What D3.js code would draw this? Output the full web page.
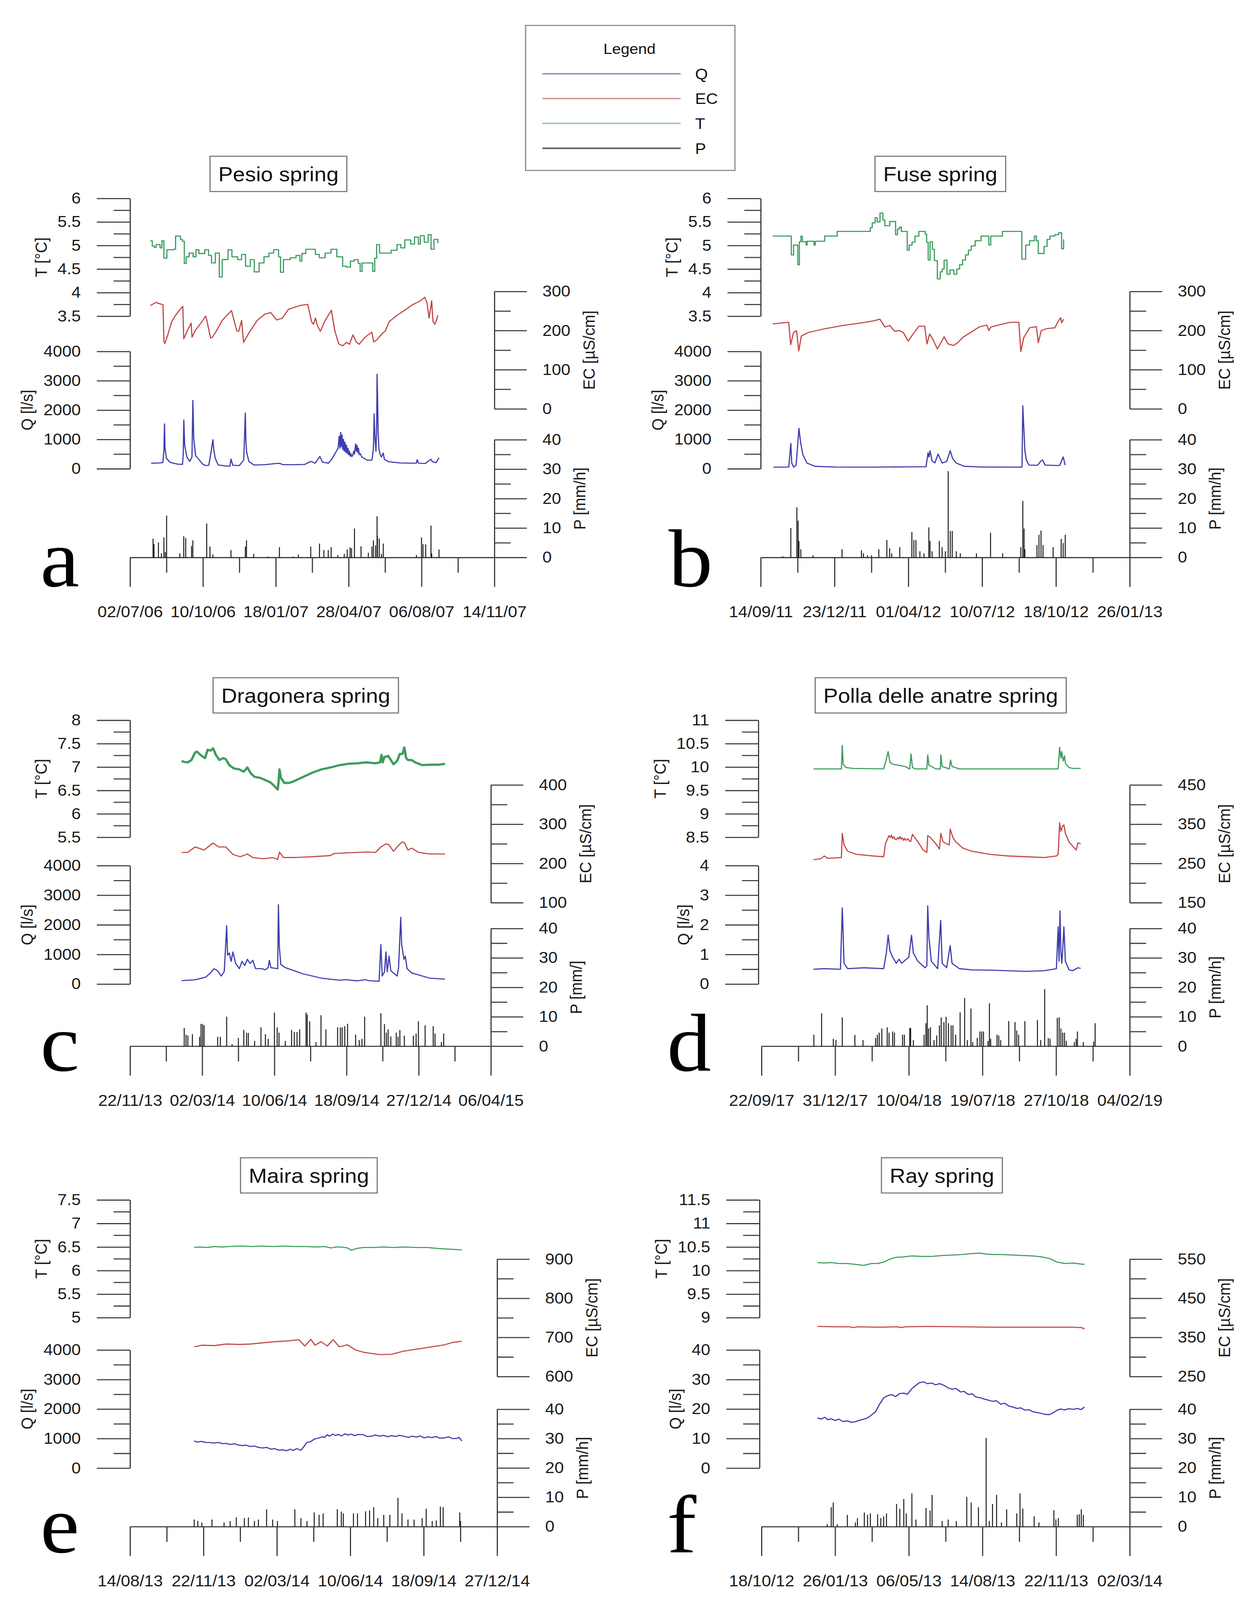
<!DOCTYPE html>
<html><head><meta charset="utf-8">
<script src="https://cdn.jsdelivr.net/npm/d3@7"></script>
<style>html,body{margin:0;padding:0;height:100%;overflow:hidden;background:#fff}svg{display:block;width:100vw;height:100vh}</style>
</head><body>
<svg id="chart" viewBox="0 0 3224 4403" preserveAspectRatio="none"></svg>
<script>
// ---------------- DATA ----------------
// x values are days after the first date tick of each panel
const legendItems = ["Q","EC","T","P"];

// a - Pesio spring
const pesioDates = ["02/07/06","10/10/06","18/01/07","28/04/07","06/08/07","14/11/07"];
const pesioTTicks = [3.5,4,4.5,5,5.5,6];
const pesioQTicks = [0,1000,2000,3000,4000];
const pesioECTicks = [0,100,200,300];
const pesioPTicks = [0,10,20,30,40];
const pesioT = [[27.8,5.10],[30.5,4.99],[33.2,4.96],[35.8,5.02],[41.2,4.95],[43.8,5.10],[46.5,4.73],[50.5,4.91],[59.8,4.92],[62.5,5.20],[69.2,5.13],[71.8,5.09],[74.5,4.62],[77.1,4.76],[81.1,4.84],[86.5,4.76],[90.5,4.91],[94.5,4.83],[102.5,4.91],[107.8,4.79],[111.8,4.63],[117.1,4.84],[122.5,4.33],[126.5,4.70],[134.5,4.91],[139.8,4.76],[147.8,4.70],[153.1,4.81],[158.5,4.56],[165.1,4.70],[170.5,4.44],[177.1,4.63],[183.8,4.76],[190.5,4.84],[197.1,4.91],[203.8,4.76],[206.5,4.43],[210.5,4.70],[219.8,4.74],[227.8,4.79],[233.1,4.67],[235.8,4.83],[241.1,4.92],[249.1,4.92],[254.4,4.81],[259.8,4.74],[267.8,4.84],[275.8,4.92],[283.8,4.76],[291.8,4.56],[297.1,4.54],[302.4,4.67],[307.8,4.70],[313.1,4.62],[315.8,4.45],[318.4,4.63],[326.4,4.63],[333.1,4.45],[335.8,4.73],[338.4,5.02],[342.4,4.84],[350.4,4.84],[358.4,4.90],[366.4,5.02],[371.7,4.95],[377.1,5.12],[385.1,5.03],[390.4,5.18],[395.7,5.03],[398.4,5.21],[403.7,5.07],[409.1,5.23],[413.1,4.92],[417.1,5.13],[422.4,5.05]];
const pesioEC = [[27.8,264],[35.8,272],[39.8,269],[45.2,266],[46.5,173],[47.8,167],[51.8,189],[57.2,223],[62.5,239],[67.8,252],[72.4,262],[73.7,179],[78.5,199],[83.8,219],[85.1,183],[89.1,199],[97.1,219],[103.8,237],[105.1,229],[110.5,181],[113.1,183],[118.5,199],[126.5,226],[134.5,242],[139.3,251],[146.5,199],[149.1,198],[153.1,226],[155.8,170],[163.8,196],[174.5,226],[185.1,242],[193.1,246],[201.1,227],[209.1,232],[217.1,254],[225.1,259],[233.1,264],[243.8,267],[249.1,223],[251.8,216],[254.4,232],[257.1,213],[261.1,198],[267.8,226],[276.3,252],[281.1,199],[286.4,166],[291.8,161],[297.1,170],[301.1,165],[305.9,189],[310.4,171],[314.4,165],[322.4,183],[331.8,196],[334.4,171],[338.4,176],[346.4,193],[350.4,199],[355.7,223],[366.4,239],[377.1,252],[387.7,266],[398.4,276],[404.5,285],[407.7,269],[410.4,232],[413.9,276],[415.7,223],[418.4,216],[421,229],[422.4,239]];
const pesioQ = [[29,190],[40,200],[45,210],[46.5,600],[47.3,1530],[48,700],[50,350],[55,220],[65,160],[72,150],[73,500],[73.8,1660],[75,800],[78,400],[82,250],[85,400],[86.2,2330],[87.5,1000],[90,450],[95,300],[100,150],[104,110],[108,120],[111,540],[113.7,990],[115,640],[117,350],[121,130],[130,100],[137,85],[138.5,330],[141,120],[150,110],[156,300],[158.2,1900],[159,900],[160,580],[163,250],[170,130],[185,140],[200,180],[205,186],[210,140],[225,140],[240,150],[248,250],[254,190],[260.5,421],[264,230],[272,190],[277,330],[281.7,537],[285.6,702],[287,1115],[288,700],[289.1,1240],[290,750],[291,1150],[292,650],[293,1000],[294,600],[295,900],[296,560],[297,805],[298,520],[299,700],[300,480],[301,600],[302,430],[303,520],[304.3,413],[305.5,450],[307,600],[308,500],[309.6,847],[310.5,600],[311.5,800],[312.5,550],[313.5,700],[314.5,480],[316,520],[318,400],[320.3,372],[325,300],[328.3,290],[332,300],[334,700],[335,1870],[336,1100],[337.5,600],[338.5,1500],[339,3220],[339.8,2300],[340.5,1200],[341.5,700],[343,500],[345,400],[347.5,537],[349,320],[355,240],[370,200],[393,190],[394,310],[396,190],[405,180],[413,322],[415,240],[420,210],[424,372]];
const pesioP = [[31.6,6.4],[32.9,4.5],[39,5.1],[43,1.4],[46.5,6.8],[48.4,1.9],[50.2,14.2],[68.4,1.4],[73.7,7.2],[76.4,6.6],[84.4,3.9],[86.2,5.8],[105.2,11.5],[109.7,3.7],[113.7,1.0],[138.5,2.5],[158.2,3.7],[159.8,5.8],[169.7,1.2],[189,0.3],[205,3.5],[224,0.3],[231,1.0],[248,3.7],[260,4.7],[266,2.5],[272,2.5],[276,3.5],[285,0.8],[294,1.2],[298,2.7],[302,3.4],[304,3.1],[308,9.8],[317,3.8],[327,1.6],[332,3.7],[334,5.8],[337,4.1],[339,14],[339.5,7.4],[342,6.4],[345,1.2],[347.5,4.7],[393,0.8],[400,6.8],[402,4.5],[405.7,4.4],[413,10.8],[414,1.4],[424,2.7]];

// b - Fuse spring
const fuseDates = ["14/09/11","23/12/11","01/04/12","10/07/12","18/10/12","26/01/13"];
const fuseTTicks = [3.5,4,4.5,5,5.5,6];
const fuseQTicks = [0,1000,2000,3000,4000];
const fuseECTicks = [0,100,200,300];
const fusePTicks = [0,10,20,30,40];
const fuseT = [[16.3,5.20],[39.2,5.20],[41.4,4.80],[44.5,5.01],[47.9,5.01],[50.3,4.59],[52.4,5.08],[54.5,5.20],[56.5,5.08],[61.6,5.01],[62.9,5.09],[72.2,5.01],[74,5.09],[85.3,5.09],[86.6,5.20],[102.4,5.20],[103.7,5.30],[145.8,5.30],[148.5,5.38],[151.1,5.48],[155,5.59],[157.7,5.50],[161.6,5.69],[165.6,5.54],[168.2,5.42],[174.8,5.51],[182.7,5.23],[185.3,5.35],[188,5.39],[190.6,5.30],[198.5,4.90],[201.1,5.01],[205,5.07],[209,5.20],[214.3,5.30],[222.7,5.24],[224.8,5.07],[226.9,4.69],[229.5,5.08],[232.7,4.92],[235.3,4.68],[239.3,4.29],[243.2,4.44],[245.9,4.50],[248.5,4.69],[252.4,4.39],[256.4,4.48],[261.7,4.39],[265.6,4.50],[269.5,4.59],[273.5,4.69],[277.5,4.80],[281.4,4.90],[285.3,4.99],[290.6,5.10],[298.5,5.20],[309,5.01],[311.7,5.20],[327.5,5.30],[351.1,5.30],[353.8,4.71],[359,5.01],[364.3,5.10],[370.9,5.20],[373.5,5.10],[376.1,4.83],[384,4.98],[388,5.13],[391.9,5.20],[398.5,5.23],[403.8,5.27],[407.7,4.93],[410.4,5.13]];
const fuseEC = [[16.3,217],[37.9,221],[40.6,164],[44.5,195],[48.5,200],[51.6,148],[55,186],[64.3,195],[85.3,204],[111.6,213],[138,220],[153.7,225],[161.6,229],[168.2,209],[174.8,213],[181.4,198],[188,200],[193.2,195],[199.8,173],[206.4,191],[214.3,211],[222.2,211],[225.3,166],[228.8,191],[232.7,180],[239.3,153],[243.2,166],[248.5,184],[253.8,166],[261.1,162],[266.9,169],[274.8,184],[285.3,196],[295.9,209],[306.4,214],[309,200],[311.7,209],[322.2,214],[338,221],[349.8,221],[352.4,146],[356.4,182],[364.3,207],[373.5,210],[376.1,169],[380.1,200],[388,205],[398.5,207],[403.2,224],[406.4,233],[407.7,220],[410.4,229]];
const fuseQ = [[17.3,56],[38,60],[40.8,864],[42,200],[44.7,56],[48,120],[51.8,1380],[54,900],[57.2,474],[62.7,195],[73.6,84],[100,60],[150,55],[200,65],[224,70],[226.7,543],[228,400],[229.4,613],[232.2,265],[236,200],[240.3,500],[245.8,195],[252,250],[256.7,613],[260,350],[264.9,195],[275.9,84],[300,60],[354,56],[355.1,2146],[357.9,613],[360,300],[363.3,125],[375,120],[379.7,265],[382,300],[385.2,125],[405,110],[409.8,404],[412.5,125]];
const fuseP = [[29.9,0.4],[40.8,10],[49,17],[50.7,12.5],[51.8,5.6],[54.4,2.8],[70.9,0.7],[110.2,2.8],[136.5,2.4],[139.2,1.4],[144.6,0.7],[150.1,0.7],[160,2.8],[170.9,5.9],[174.7,3.1],[177.5,1.4],[188.4,3.5],[204.8,8.6],[207.5,5.9],[210.3,5.9],[215.7,2.1],[221.2,1.4],[227.8,10.2],[229.4,5.6],[232.2,2.1],[242,5.6],[245.8,3.5],[250.2,2.1],[254,29.3],[256.8,9],[259.5,9],[265,2.1],[270.4,1.4],[292.3,1.4],[311.4,8.4],[327.8,1.4],[352.4,3.5],[355.1,19.2],[356.8,9.8],[357.9,2.8],[374.3,4.2],[377,7.7],[379.8,9.1],[382.5,4.2],[396.2,3.5],[407.1,6.3],[409.8,4.9],[412.6,7.7]];

// c - Dragonera spring
const dragDates = ["22/11/13","02/03/14","10/06/14","18/09/14","27/12/14","06/04/15"];
const dragTTicks = [5.5,6,6.5,7,7.5,8];
const dragQTicks = [0,1000,2000,3000,4000];
const dragECTicks = [100,200,300,400];
const dragPTicks = [0,10,20,30,40];
const dragT = [[71.4,7.13],[75,7.11],[80.1,7.10],[85.1,7.15],[90.1,7.31],[92.6,7.33],[97.6,7.26],[103.9,7.19],[107.6,7.37],[111.4,7.35],[115.1,7.40],[118.9,7.26],[123.9,7.15],[128.9,7.19],[132.6,7.17],[137.6,7.04],[143.9,6.97],[151.4,6.95],[157.6,6.90],[162.6,6.99],[167.6,6.86],[172.6,6.79],[180.1,6.77],[187.6,6.72],[193.9,6.68],[197.6,6.63],[201.4,6.57],[204.6,6.52],[205.9,6.70],[207.1,6.95],[208.9,6.77],[213.9,6.66],[220.1,6.66],[227.6,6.70],[240.1,6.79],[252.6,6.88],[265.1,6.95],[277.6,6.99],[290.1,7.04],[302.6,7.07],[315.1,7.08],[327.6,7.10],[340.1,7.08],[346.4,7.10],[348.4,7.26],[350.1,7.10],[352.6,7.22],[355.1,7.22],[357.6,7.24],[361.4,7.15],[365.1,7.06],[370.1,7.13],[373.9,7.28],[377.6,7.28],[380.1,7.42],[382.6,7.19],[385.1,7.15],[390.1,7.15],[395.1,7.10],[405.1,7.04],[415.1,7.05],[427.6,7.05],[436.4,7.07]];
const dragEC = [[71.4,228],[80.1,228],[90.1,242],[102.6,234],[115.1,252],[122.6,242],[132.6,242],[142.6,223],[152.6,217],[162.6,224],[170.1,215],[185.1,212],[197.6,215],[204.6,210],[207.1,229],[212.6,215],[227.6,215],[252.6,217],[277.6,220],[282.6,225],[302.6,227],[327.6,229],[340.1,228],[347.6,242],[355.1,250],[358.9,247],[365.1,231],[372.6,247],[377.6,255],[380.6,252],[385.1,234],[390.1,239],[400.1,228],[415.1,224],[436.4,224]];
const dragQ = [[71.4,115],[90.1,143],[105.1,235],[111.4,377],[116.4,519],[121.4,448],[126.4,271],[130.6,427],[133.9,1970],[135.1,978],[137.6,1049],[140.1,766],[142.6,1084],[146.4,695],[151.4,519],[155.1,766],[158.9,625],[162.6,837],[166.4,695],[170.1,801],[173.9,519],[182.6,519],[187.6,483],[191.4,554],[193.1,801],[195.1,554],[204.6,519],[205.6,2678],[206.9,1261],[208.9,660],[215.1,554],[240.1,342],[265.1,200],[290.1,129],[298.9,150],[315.1,108],[326.4,150],[330.1,115],[345.1,94],[347.6,1332],[349.4,271],[352.6,412],[354.6,1084],[356.4,412],[358.9,943],[361.4,448],[370.1,271],[372.1,554],[375.1,2254],[376.4,1332],[379.6,837],[381.4,943],[383.9,519],[390.1,377],[415.1,200],[436.4,165]];
const dragP = [[75.1,6.2],[77.6,3.9],[80.1,3.6],[86.4,4.1],[96.4,3.2],[98.4,7.6],[100.6,7.5],[102.6,7.1],[121.4,3.2],[125.1,3.2],[133.9,10],[141.4,0.7],[150.1,2.8],[157.6,5.5],[161.4,4.5],[163.9,4.5],[172.6,1.8],[181.4,6.4],[187.6,4.1],[191.4,2.5],[200.1,11.4],[203.9,6.4],[206.4,4.6],[215.1,1.8],[223.9,5.5],[227.6,4.8],[231.4,4.8],[235.1,5.7],[243.9,11.4],[245.6,10.7],[248.9,8.5],[257.6,1.4],[264.6,10.5],[271.4,5.7],[287.6,6.4],[291.4,6.4],[293.9,6.4],[297.6,6.8],[301.4,7.6],[312.6,3.9],[317.6,2.1],[321.4,2.5],[325.1,10],[347.6,11.2],[352.6,7.5],[355.1,4.6],[357.6,5.7],[361.4,3.3],[368.9,4.6],[371.4,3.2],[373.9,5.5],[380.1,3.6],[392.6,3.6],[396.4,4.3],[399.6,8.5],[408.9,7.1],[420.1,6.8],[422.6,4.3],[431.4,1.4],[434.6,4.3]];

// d - Polla delle anatre spring
const pollaDates = ["22/09/17","31/12/17","10/04/18","19/07/18","27/10/18","04/02/19"];
const pollaTTicks = [8.5,9,9.5,10,10.5,11];
const pollaQTicks = [0,1,2,3,4];
const pollaECTicks = [150,250,350,450];
const pollaPTicks = [0,10,20,30,40];
const pollaT = [[70.6,9.96],[108.5,9.96],[109.7,10.46],[110.9,10.06],[114.6,9.99],[124.3,9.97],[165.9,9.96],[168.3,10.10],[172,10.33],[174.4,10.10],[178.1,10.06],[185.4,10.04],[195.2,10.01],[201.3,9.96],[203,10.28],[205,9.99],[208.6,9.96],[224.5,9.96],[225.7,10.26],[227.4,10.04],[236.7,9.96],[242.8,9.96],[243.5,10.26],[245.3,10.01],[255,9.96],[256.7,10.15],[258.7,10.01],[268.5,9.96],[402.8,9.96],[404.8,10.42],[406.5,10.19],[407.7,10.33],[409.7,10.13],[411.4,10.24],[412.6,10.08],[417.5,9.99],[422.4,9.97],[433.4,9.97]];
const pollaEC = [[70.6,259.5],[80.4,262],[85.2,268.8],[90.1,263],[108.5,265],[109.7,326.6],[112.1,297],[117,281],[129.2,273],[151.2,269],[165.9,267],[168.3,300],[173.2,321],[175,316],[176.5,322],[178.1,313],[180,318],[181.5,311],[183,310.5],[185,316],[186.5,312],[187.9,318.5],[189.5,312],[191,315],[192.7,309],[194.5,314],[196,309],[197.6,310.5],[199,313],[200.5,307],[202.5,306],[205,324],[212.3,305],[219.6,284],[224.5,278],[225.7,321],[229.4,316],[236.7,300],[241.6,286.5],[243.5,326.6],[246.5,305],[251.4,300],[255,297],[256.2,337.5],[259.9,316],[263.6,305],[273.4,289],[285.6,281],[310,273],[334.4,269],[358.9,267],[383.3,265],[400.4,268.8],[402.8,273],[404.8,353.5],[406.5,332],[408.9,345.5],[410.6,348],[412.6,326.6],[417.5,305],[422.4,294],[427.3,284],[429.7,302.5],[433.4,300]];
const pollaQ = [[70.6,0.50],[85.2,0.52],[107.2,0.50],[109.7,2.57],[110.4,2.04],[112.1,0.70],[117,0.52],[139,0.55],[165.9,0.52],[169.5,1.05],[172,1.65],[174.4,1.12],[178.1,0.91],[183,0.70],[186.6,0.84],[190.3,0.70],[195.2,0.81],[200.1,0.91],[203.7,1.65],[206.2,1.05],[212.3,0.77],[222.1,0.55],[224.5,0.62],[225.7,2.64],[227.4,1.55],[230.6,0.77],[239.2,0.52],[243.3,2.15],[245.3,0.70],[251.4,0.55],[256.2,1.30],[258.7,0.70],[268.5,0.52],[285.6,0.48],[310,0.47],[334.4,0.45],[358.9,0.43],[383.3,0.45],[400.4,0.52],[402.8,1.93],[404,0.77],[405.3,2.47],[406.5,1.12],[407.7,0.70],[408.9,1.12],[410.6,1.93],[412.6,0.77],[417.5,0.48],[422.4,0.45],[429.7,0.55],[433.4,0.53]];
const pollaP = [[71.1,3.9],[81.6,11.2],[97.5,2.5],[101.1,2.1],[109.7,9.8],[126.8,3.8],[137.8,2.1],[154.9,2.8],[157.3,3.9],[159.8,4.6],[163.4,6],[170.7,6.4],[173.2,4.6],[178.1,5],[180.5,4.6],[191.5,3.9],[194,3.9],[201.3,6.2],[202.5,6.2],[206.2,2.1],[220.8,3.9],[223.3,7.8],[225,13.9],[226.9,6],[229.4,6.4],[234.3,2.1],[237.9,3.6],[241.6,7.1],[244,9.8],[247.7,8.2],[250.6,10],[253.8,7.8],[257.5,7.1],[259.9,7.1],[263.6,3.9],[269.7,11.5],[275.8,16.4],[279.5,2.1],[284.4,12.8],[286.8,1.4],[292.9,2.8],[296.6,5],[299,5],[301.4,5],[307.6,1.8],[309.5,14.6],[311.2,2.5],[319.8,3.9],[322.2,3.6],[324.7,2.1],[335.7,8.5],[344.2,8.2],[346.6,5.3],[349.1,3.9],[357.6,8.5],[374.7,8.9],[379.1,2.1],[384.5,19.4],[389.4,2.8],[391.8,2.5],[401.6,9.6],[404.1,9.8],[406.5,6],[408.9,4.6],[411.4,4.6],[413.8,1.8],[424.8,1.4],[427.3,2.5],[429,5],[437,1.4],[451,1.6],[453,7.8]];

// e - Maira spring
const mairaDates = ["14/08/13","22/11/13","02/03/14","10/06/14","18/09/14","27/12/14"];
const mairaTTicks = [5,5.5,6,6.5,7,7.5];
const mairaQTicks = [0,1000,2000,3000,4000];
const mairaECTicks = [600,700,800,900];
const mairaPTicks = [0,10,20,30,40];
const mairaT = [[87.4,6.49],[95,6.50],[105,6.49],[115,6.51],[125,6.50],[135,6.51],[150,6.52],[165,6.51],[180,6.52],[195,6.51],[210,6.52],[225,6.51],[240,6.51],[255,6.50],[265,6.51],[274,6.48],[280,6.50],[288,6.50],[296,6.48],[301.5,6.43],[305,6.45],[309,6.47],[318,6.49],[330,6.49],[345,6.50],[360,6.49],[373,6.50],[390,6.49],[405,6.49],[418,6.47],[428,6.46],[440,6.45],[452,6.44]];
const mairaEC = [[87.4,676],[97.8,680],[115,679],[130.8,683],[150,682],[163.9,683],[180,686],[196.9,689],[215,691],[229.9,694],[238.2,678],[246.4,695],[251.9,680],[260.2,689],[268.5,678],[276.7,694],[285,676],[296,681],[307,668],[318,662],[340.1,656],[356.6,657],[373.1,665],[400.7,673],[428.2,681],[439.2,687],[451.9,690]];
const mairaQ = [[87.4,919],[92,880],[97,905],[103,870],[108.8,867],[114,845],[120,870],[126,830],[130.8,836],[137,800],[142,825],[148,780],[152.8,762],[158,775],[164,730],[170,745],[175,700],[180.4,679],[186,700],[192,640],[197,660],[202.4,606],[208,620],[213.4,585],[218,640],[222,600],[227.2,658],[232.7,606],[236,700],[240.9,867],[246,900],[251,980],[257.5,1023],[262,1060],[265,1040],[268.5,1128],[272,1080],[276,1150],[279.5,1107],[284,1140],[288,1090],[293,1160],[297,1120],[301.5,1149],[306,1100],[311,1140],[318,1128],[323,1070],[329.1,1076],[334,1120],[340,1080],[345.6,1107],[351,1060],[356,1100],[362,1070],[367,1110],[373.1,1076],[379,1040],[384,1080],[390,1050],[395,1090],[400.7,1023],[406,1060],[411,1030],[417,1070],[422,1010],[428.2,1023],[434,1060],[439,1000],[444.7,1003],[448,1040],[451.9,919]];
const mairaP = [[87.4,2.4],[92.3,1.9],[97.8,1.4],[111.6,2.4],[128.1,1.4],[136.4,1.9],[144.7,3.1],[155.7,2.9],[161.2,3.1],[169.4,1.9],[174.9,2.4],[186,5.9],[194.2,2.4],[200.8,1.9],[224.5,5.9],[232.8,2.9],[241,1.9],[250.9,4.8],[257.5,4],[263,4.5],[282.3,5.9],[287.8,5.1],[290.5,4.5],[304.3,4.5],[309.8,4.5],[320.8,5.2],[326.3,5.5],[331.9,6.6],[337.4,2.9],[345.6,4],[353.9,4],[364.9,9.8],[370.4,4.5],[378.6,2.4],[386.9,2.4],[397.9,2.9],[403.4,6.1],[411.6,1.9],[417.1,2.1],[422.7,6.8],[426.5,6.6],[449.1,4.8],[450.2,1.9]];

// f - Ray spring
const rayDates = ["18/10/12","26/01/13","06/05/13","14/08/13","22/11/13","02/03/14"];
const rayTTicks = [9,9.5,10,10.5,11,11.5];
const rayQTicks = [0,10,20,30,40];
const rayECTicks = [250,350,450,550];
const rayPTicks = [0,10,20,30,40];
const rayT = [[76,10.17],[85,10.16],[94.7,10.17],[105,10.15],[116.6,10.15],[128,10.13],[138.5,10.11],[149.4,10.15],[158,10.15],[165.9,10.18],[174,10.24],[182.3,10.28],[193,10.29],[204.2,10.31],[218,10.30],[231.6,10.30],[245,10.32],[259,10.33],[272,10.34],[286.4,10.36],[297.3,10.37],[305,10.35],[313.7,10.34],[327,10.34],[341.1,10.33],[355,10.32],[368.5,10.31],[380,10.29],[390.4,10.26],[396,10.22],[401.4,10.18],[412.3,10.15],[423.3,10.16],[432,10.14],[438.6,10.13]];
const rayEC = [[76,378],[100,377],[120,377],[125,375],[130,377],[160,376],[185,377],[190,375],[195,377],[230,378],[270,377],[320,376],[370,376],[420,376],[435,375],[437,372],[438.6,374]];
const rayQ = [[76,17.0],[81,16.6],[86,17.2],[90,16.4],[94.7,16.7],[100,16.1],[105,16.6],[110,15.8],[116.6,16.0],[122,15.5],[127.5,15.7],[133,16.2],[138,16.5],[144,17.0],[149,17.9],[154.9,19.1],[160,21.5],[165.9,23.8],[171,24.5],[176.8,24.9],[182,24.2],[187,25.2],[193.2,25.4],[198,25.0],[204.2,26.9],[209.7,28.0],[214,28.9],[220.6,29.2],[225,28.6],[231.6,28.8],[236,28.2],[242,28.6],[248,28.0],[253,27.2],[259,26.7],[264,27.0],[270,25.8],[275,26.0],[280.9,24.9],[286,25.2],[291,24.1],[297.3,23.8],[302,23.4],[308,23.0],[313.7,22.6],[319,22.8],[325,21.6],[330,22.0],[336,21.0],[341.1,20.7],[347,20.2],[352,20.4],[358,19.6],[363,19.8],[368.5,19.1],[374,18.8],[379,18.6],[385,18.2],[390.4,18.1],[395,18.6],[401.4,19.6],[406,20.0],[412,19.7],[417,20.1],[423.3,19.9],[429,20.2],[434,19.8],[438.6,20.7]];
const rayP = [[89.2,0.8],[94.7,6.6],[97.4,8.2],[102.9,0.8],[116.6,4],[127.5,1.4],[130.3,2.9],[139.6,4.8],[144,4],[147.8,4.5],[157.7,4.2],[162,2.9],[165.9,3.5],[169.7,4.5],[183.4,7.7],[187.8,6.1],[193.2,9.4],[196.5,4.5],[204.2,11.3],[209.7,2.4],[223.4,6.3],[228.9,5.5],[231.6,10.8],[245.3,1.9],[253.5,2.4],[264.5,1.9],[278.7,10.1],[284.7,8.2],[294.6,6.6],[305,30.2],[309.3,1.9],[313.7,7.7],[319.2,10.8],[325.8,1.4],[332.9,5.9],[346.6,4.5],[351,11.3],[354.8,6.1],[370.2,3.5],[376.7,1.4],[397,5.6],[399.7,2.4],[403,2.9],[428.8,4],[431.5,4.2],[434.2,5.9],[437,4]];

// ---------------- LAYOUT ----------------
const rows = [
  {T:[546,870], Q:[967,1290], EC:[802,1125], P:[1210,1534], box:430, letterY:1613},
  {T:[1982,2304], Q:[2382,2708], EC:[2160,2484], P:[2555,2879], box:1865, letterY:2946},
  {T:[3302,3626], Q:[3715,4040], EC:[3465,3788], P:[3878,4201], box:3186, letterY:4272}
];
const panels = [
  {letter:"a", title:"Pesio spring", row:0, axisX:333, xl:333, xr:1266, titleCx:713, letterX:103, pLabel:"P [mm/h]",
   dates:pesioDates, tT:pesioTTicks, tQ:pesioQTicks, tEC:pesioECTicks, tP:pesioPTicks, T:pesioT, EC:pesioEC, Q:pesioQ, P:pesioP, stepT:true},
  {letter:"b", title:"Fuse spring", row:0, axisX:1948, xl:1948, xr:2893, titleCx:2408, letterX:1712, pLabel:"P [mm/h]",
   dates:fuseDates, tT:fuseTTicks, tQ:fuseQTicks, tEC:fuseECTicks, tP:fusePTicks, T:fuseT, EC:fuseEC, Q:fuseQ, P:fuseP, stepT:true},
  {letter:"c", title:"Dragonera spring", row:1, axisX:333, xl:333, xr:1257, titleCx:783, letterX:103, pLabel:"P [mm/]",
   dates:dragDates, tT:dragTTicks, tQ:dragQTicks, tEC:dragECTicks, tP:dragPTicks, T:dragT, EC:dragEC, Q:dragQ, P:dragP, thickT:true},
  {letter:"d", title:"Polla delle anatre spring", row:1, axisX:1942, xl:1950, xr:2893, titleCx:2409, letterX:1708, pLabel:"P [mm/h]",
   dates:pollaDates, tT:pollaTTicks, tQ:pollaQTicks, tEC:pollaECTicks, tP:pollaPTicks, T:pollaT, EC:pollaEC, Q:pollaQ, P:pollaP},
  {letter:"e", title:"Maira spring", row:2, axisX:333, xl:333, xr:1273, titleCx:791, letterX:103, pLabel:"P [mm/h]",
   dates:mairaDates, tT:mairaTTicks, tQ:mairaQTicks, tEC:mairaECTicks, tP:mairaPTicks, T:mairaT, EC:mairaEC, Q:mairaQ, P:mairaP},
  {letter:"f", title:"Ray spring", row:2, axisX:1945, xl:1950, xr:2893, titleCx:2412, letterX:1708, pLabel:"P [mm/h]",
   dates:rayDates, tT:rayTTicks, tQ:rayQTicks, tEC:rayECTicks, tP:rayPTicks, T:rayT, EC:rayEC, Q:rayQ, P:rayP}
];

const FONT = '"Liberation Sans", Arial, Helvetica, sans-serif';
const SERIF = '"Liberation Serif", "Times New Roman", serif';
const COL = {Q:"#3d3dae", EC:"#c24848", T:"#3d9c5e", P:"#1a1a1a"};
const LEGCOL = {Q:"#8f93c8", EC:"#d69898", T:"#9cc7aa", P:"#555555"};
const AXIS = "#3c3c3c";
const TICKFS = 43;
const LETTERFS = 226;

const svg = d3.select("#chart");
svg.append("rect").attr("width",3224).attr("height",4403).attr("fill","#fff");
const parse = d3.timeParse("%d/%m/%y");
const mid = a => a.slice(0,-1).map((v,i)=>(v+a[i+1])/2);

function styleAxis(ax){
  ax.attr("font-family",FONT).attr("font-size",TICKFS).attr("color",AXIS);
  ax.selectAll("line,path").attr("stroke-width",3);
  ax.selectAll("text").attr("fill","#1a1a1a");
}
function yAxis(g, scale, ticks, xPos, side){
  const mk = side==="left" ? d3.axisLeft : d3.axisRight;
  const major = mk(scale).tickValues(ticks).tickSize(side==="left"?85:83).tickSizeOuter(0)
      .tickPadding(side==="left"?41:40).tickFormat(d3.format(""));
  const minor = mk(scale).tickValues(mid(ticks)).tickSize(42).tickFormat("");
  const ax = g.append("g").attr("transform",`translate(${xPos},0)`).call(major);
  const mn = g.append("g").attr("transform",`translate(${xPos},0)`).call(minor);
  mn.select(".domain").remove();
  styleAxis(ax); styleAxis(mn);
  return ax;
}
function axisTitle(g, ax, xPos, side, text, range){
  const bb = ax.selectAll(".tick text").nodes().map(n=>n.getBBox());
  let cx;
  if(side==="left") cx = xPos + d3.min(bb,b=>b.x) - 42;
  else cx = xPos + d3.max(bb,b=>b.x+b.width) + 47;
  const cy = (range[0]+range[1])/2;
  g.append("text").attr("transform",`translate(${cx},${cy}) rotate(-90)`)
    .attr("text-anchor","middle").attr("dy","0.35em")
    .attr("font-family",FONT).attr("font-size",TICKFS).attr("fill","#1a1a1a").text(text);
}

function drawPanel(p){
  const r = rows[p.row];
  const g = svg.append("g");
  const ticks = p.dates.map(parse);
  const t0 = ticks[0];
  const toDate = d => new Date(t0.getTime() + d*864e5);
  const x = d3.scaleTime().domain([ticks[0], ticks[ticks.length-1]]).range([p.xl, p.xr]);
  const yT = d3.scaleLinear().domain([p.tT[0], p.tT[p.tT.length-1]]).range([r.T[1], r.T[0]]);
  const yQ = d3.scaleLinear().domain([p.tQ[0], p.tQ[p.tQ.length-1]]).range([r.Q[1], r.Q[0]]);
  const yEC = d3.scaleLinear().domain([p.tEC[0], p.tEC[p.tEC.length-1]]).range([r.EC[1], r.EC[0]]);
  const yP = d3.scaleLinear().domain([p.tP[0], p.tP[p.tP.length-1]]).range([r.P[1], r.P[0]]);

  // title box
  const tb = g.append("rect").attr("y",r.box).attr("height",97).attr("fill","#fff").attr("stroke","#777").attr("stroke-width",3);
  const tt = g.append("text").attr("x",p.titleCx).attr("y",r.box+69).attr("text-anchor","middle")
    .attr("font-family",FONT).attr("font-size",56).attr("fill","#111").text(p.title);
  const tw = tt.node().getComputedTextLength() + 42;
  tb.attr("x",p.titleCx - tw/2).attr("width",tw);

  // axes
  const axT = yAxis(g, yT, p.tT, p.axisX, "left");
  const axQ = yAxis(g, yQ, p.tQ, p.axisX, "left");
  const axEC = yAxis(g, yEC, p.tEC, p.xr, "right");
  const axP = yAxis(g, yP, p.tP, p.xr, "right");
  axisTitle(g, axT, p.axisX, "left", "T [°C]", r.T);
  axisTitle(g, axQ, p.axisX, "left", "Q [l/s]", r.Q);
  axisTitle(g, axEC, p.xr, "right", "EC [µS/cm]", r.EC);
  axisTitle(g, axP, p.xr, "right", p.pLabel, r.P);

  const xa = g.append("g").attr("transform",`translate(0,${r.P[1]})`)
    .call(d3.axisBottom(x).tickValues(ticks).tickSize(81).tickSizeOuter(0).tickPadding(53).tickFormat((d,i)=>p.dates[i]));
  const mids = ticks.slice(0,-1).map((d,i)=>new Date((d.getTime()+ticks[i+1].getTime())/2));
  const xm = g.append("g").attr("transform",`translate(0,${r.P[1]})`)
    .call(d3.axisBottom(x).tickValues(mids).tickSize(42).tickFormat(""));
  xm.select(".domain").remove();
  styleAxis(xa); styleAxis(xm);

  // precipitation bars
  g.append("g").selectAll("line").data(p.P).join("line")
    .attr("x1",d=>x(toDate(d[0]))).attr("x2",d=>x(toDate(d[0])))
    .attr("y1",yP(0)).attr("y2",d=>yP(d[1]))
    .attr("stroke",COL.P).attr("stroke-width",2.5);

  const mkLine = (sc,curve) => d3.line().x(d=>x(toDate(d[0]))).y(d=>sc(d[1])).curve(curve||d3.curveLinear);
  g.append("path").datum(p.Q).attr("d",mkLine(yQ)).attr("fill","none").attr("stroke",COL.Q).attr("stroke-width",3).attr("stroke-linejoin","round");
  g.append("path").datum(p.EC).attr("d",mkLine(yEC)).attr("fill","none").attr("stroke",COL.EC).attr("stroke-width",3).attr("stroke-linejoin","round");
  g.append("path").datum(p.T).attr("d",mkLine(yT, p.stepT?d3.curveStepAfter:d3.curveLinear)).attr("fill","none")
    .attr("stroke",COL.T).attr("stroke-width",p.thickT?6:3).attr("stroke-linejoin","round");

  // panel letter
  g.append("text").attr("x",p.letterX).attr("y",r.letterY).attr("font-family",SERIF)
    .attr("font-size",LETTERFS).attr("fill","#000").text(p.letter);
}
panels.forEach(drawPanel);

// legend
const lg = svg.append("g");
lg.append("rect").attr("x",1346).attr("y",70).attr("width",536).attr("height",399)
  .attr("fill","#fff").attr("stroke","#888").attr("stroke-width",3);
lg.append("text").attr("x",1612).attr("y",148).attr("text-anchor","middle")
  .attr("font-family",FONT).attr("font-size",40).attr("fill","#111").text("Legend");
const legY = d3.scalePoint().domain(legendItems).range([203,408]);
legendItems.forEach(k=>{
  lg.append("line").attr("x1",1389).attr("x2",1743).attr("y1",legY(k)).attr("y2",legY(k))
    .attr("stroke",LEGCOL[k]).attr("stroke-width",4);
  lg.append("text").attr("x",1780).attr("y",legY(k)+15).attr("font-family",FONT).attr("font-size",42)
    .attr("fill","#111").text(k);
});
</script>
</body></html>
